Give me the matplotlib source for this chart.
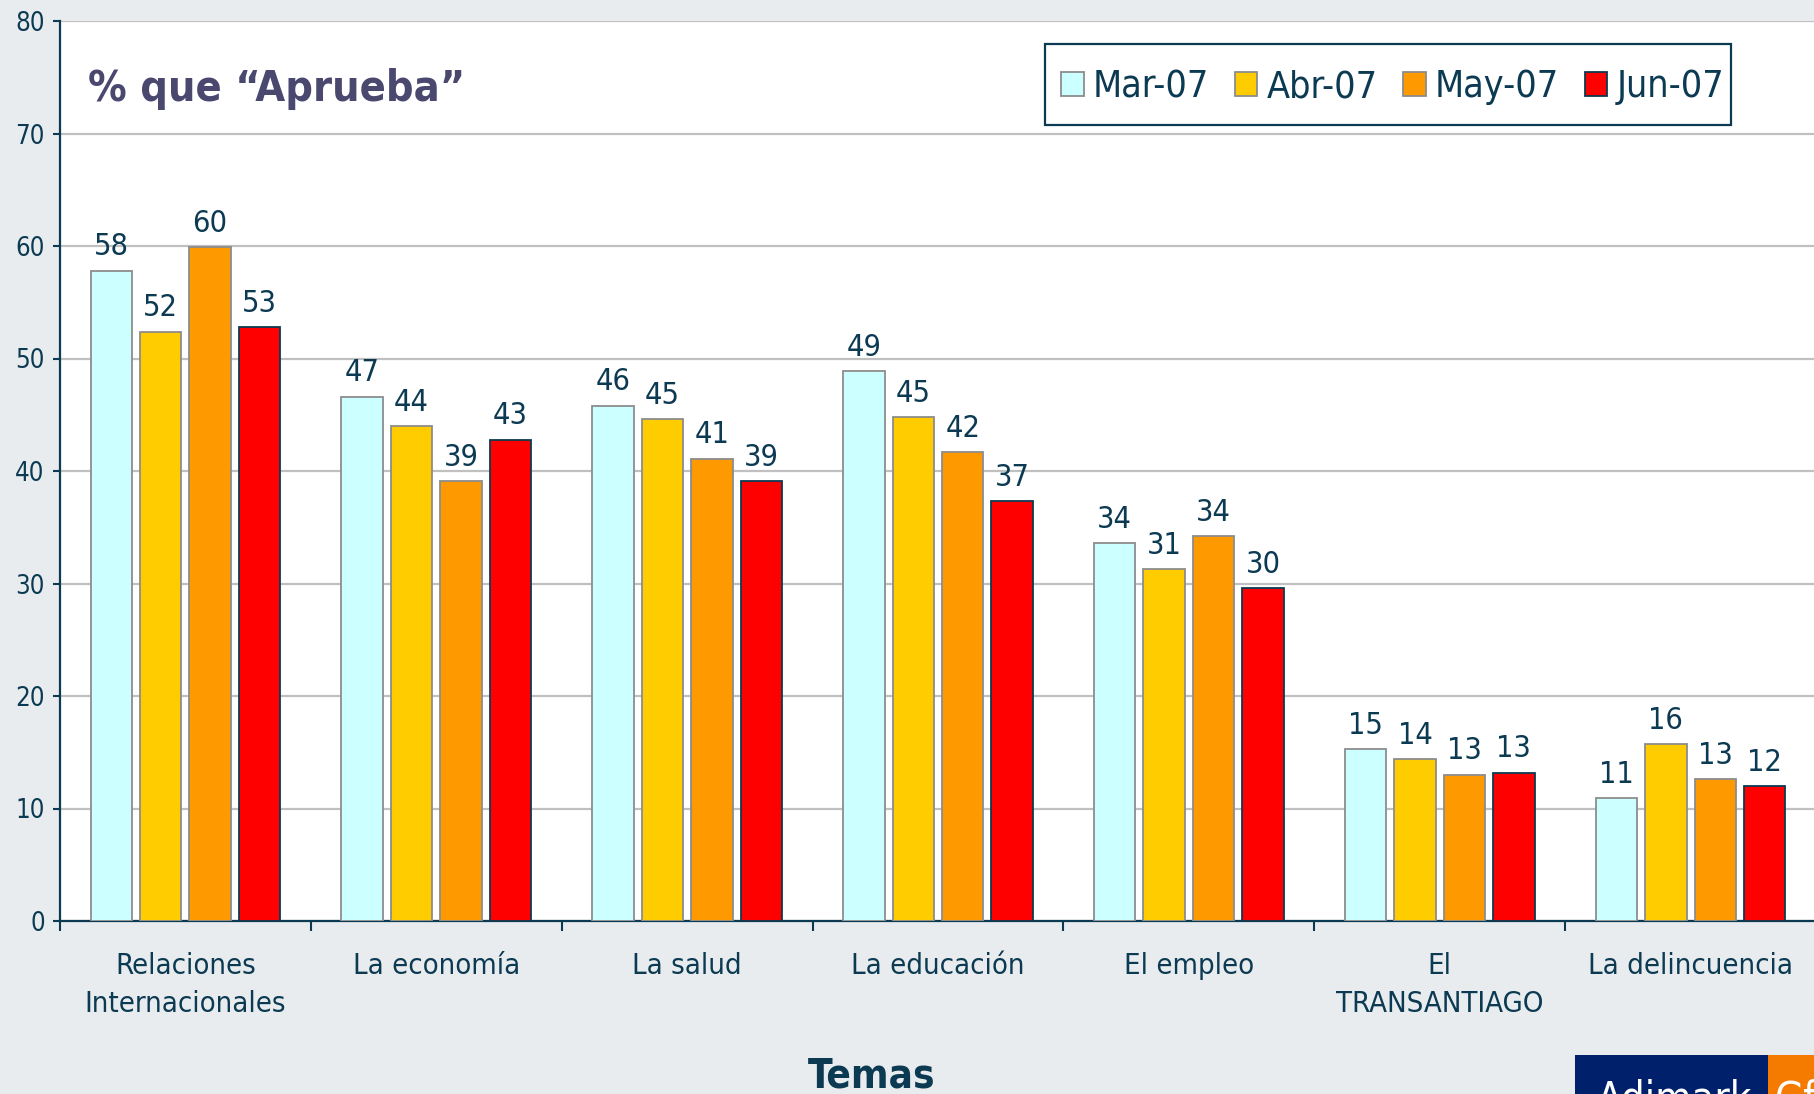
import matplotlib
matplotlib.use("Agg")
import matplotlib.pyplot as plt
import numpy as np
from matplotlib.patches import Rectangle, Patch

plt.rcParams['font.family'] = ['DejaVu Sans']
plt.rcParams['font.stretch'] = 'condensed'

# data
categories = ["Relaciones\nInternacionales", "La economía", "La salud", "La educación",
              "El empleo", "El\nTRANSANTIAGO", "La delincuencia"]
months = ["Mar-07", "Abr-07", "May-07", "Jun-07"]
mar07 = [57.8, 46.6, 45.8, 48.9, 33.6, 15.3, 10.9]
abr07 = [52.4, 44.0, 44.6, 44.8, 31.3, 14.4, 15.7]
may07 = [59.9, 39.1, 41.1, 41.7, 34.2, 13.0, 12.6]
jun07 = [52.8, 42.8, 39.1, 37.3, 29.6, 13.2, 12.0]
series = [mar07, abr07, may07, jun07]

navy = '#0B3A52'
bg = '#E8ECEE'
fills = ['#CCFFFF', '#FFCC00', '#FF9900', '#FF0000']
edges = ['#8C8C8C', '#8C8C8C', '#8C8C8C', navy]

W, H = 1814, 1094
fig = plt.figure(figsize=(W / 100, H / 100), dpi=100, facecolor=bg)
ax = fig.add_axes([60 / W, 173 / H, 1756 / W, 900 / H])
ax.set_facecolor('white')

x = np.arange(len(categories))
slot, bw = 0.197, 0.165
for j, vals in enumerate(series):
    pos = x + (j - 1.5) * slot
    ax.bar(pos, vals, width=bw, color=fills[j], edgecolor=edges[j], linewidth=1.3, zorder=3)
    for xi, v in zip(pos, vals):
        ax.annotate(f"{v:.0f}", (xi, v), xytext=(0, 11), textcoords='offset points',
                    ha='center', va='baseline', fontsize=22, color=navy)

ax.set_xlim(-0.5, 6.5)
ax.set_ylim(0, 80)
ax.set_yticks(np.arange(0, 81, 10))
ax.yaxis.grid(True, color='#C0C0C0', linewidth=1.6)
ax.set_axisbelow(True)

ax.set_xticks(x)
ax.set_xticklabels(categories, fontsize=21, color=navy, linespacing=1.46)
ax.set_xticks(np.arange(-0.5, 7, 1), minor=True)
ax.tick_params(axis='x', which='major', length=0, pad=22.5)
ax.tick_params(axis='x', which='minor', length=7, width=1.5, color=navy, direction='out')
ax.tick_params(axis='y', length=5, width=1.5, color=navy, pad=6, labelsize=18.5, labelcolor=navy)

for s in ['top', 'right']:
    ax.spines[s].set_visible(False)
for s in ['left', 'bottom']:
    ax.spines[s].set_color(navy)
    ax.spines[s].set_linewidth(1.6)

# legend: entries without frame, box drawn separately underneath
handles = [Patch(facecolor=fills[j], edgecolor=edges[j], linewidth=1.3, label=months[j]) for j in range(4)]
leg = ax.legend(handles=handles, ncol=4, loc='center left',
                bbox_to_anchor=(1061 / W, 1 - 87 / H), bbox_transform=fig.transFigure,
                fontsize=27, frameon=False,
                handlelength=0.6, handleheight=0.6, handletextpad=0.25,
                columnspacing=0.68, borderpad=0, borderaxespad=0)
for t in leg.get_texts():
    t.set_color(navy)
ax.add_patch(Rectangle((1045 / W, 1 - 125 / H), (1731 - 1045) / W, 81 / H,
                       transform=fig.transFigure, facecolor='white', edgecolor=navy,
                       linewidth=1.6, zorder=4, clip_on=False))

fig.text(88 / W, 1 - 101 / H, '% que “Aprueba”', fontsize=31, weight='bold',
         color='#4B4870', va='baseline')
fig.text(872 / W, 1 - 1076 / H, 'Temas', fontsize=29, weight='bold', color=navy,
         ha='center', va='center')

# logo strip at the bottom right
fig.patches.append(Rectangle((1575 / W, 0), (1768 - 1575) / W, (H - 1055) / H,
                             transform=fig.transFigure, facecolor='#00206B', edgecolor='none'))
fig.patches.append(Rectangle((1768 / W, 0), (W - 1768) / W, (H - 1055) / H,
                             transform=fig.transFigure, facecolor='#F47B00', edgecolor='none'))
fig.text(1597 / W, 1 - 1079 / H, 'Adimark', fontsize=30, color='white', va='top')
fig.text(1775 / W, 1 - 1079 / H, 'GfK', fontsize=30, color='white', va='top')

fig.savefig('out.png', dpi=100, facecolor=bg)
